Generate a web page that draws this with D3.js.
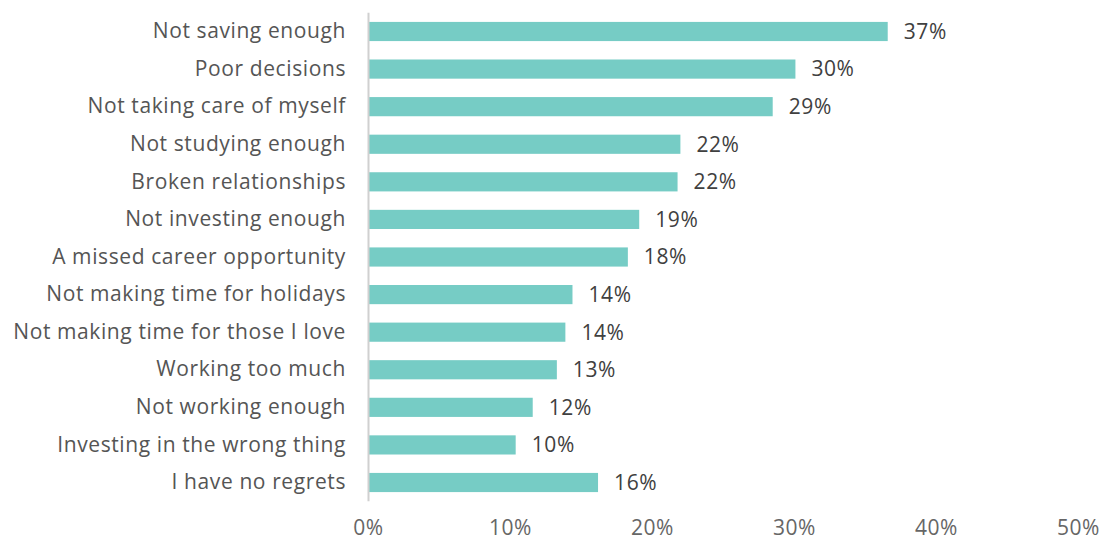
<!DOCTYPE html>
<html>
<head>
<meta charset="utf-8">
<script src="https://d3js.org/d3.v7.min.js"></script>
<style>
  body { margin: 0; background: #fff; }
  text { font-family: "Open Sans", Lato, sans-serif; letter-spacing: 0.6px; }
</style>
</head>
<body>
<div id="chart"></div>
<script>
var svgWidth = 1104;
var svgHeight = 542;

// data
var categories = [
  "Not saving enough",
  "Poor decisions",
  "Not taking care of myself",
  "Not studying enough",
  "Broken relationships",
  "Not investing enough",
  "A missed career opportunity",
  "Not making time for holidays",
  "Not making time for those I love",
  "Working too much",
  "Not working enough",
  "Investing in the wrong thing",
  "I have no regrets"
];
var values = [36.6, 30.1, 28.5, 22.0, 21.8, 19.1, 18.3, 14.4, 13.9, 13.3, 11.6, 10.4, 16.2];
var valueLabels = ["37%", "30%", "29%", "22%", "22%", "19%", "18%", "14%", "14%", "13%", "12%", "10%", "16%"];
var tickValues = [0, 10, 20, 30, 40, 50];

var fontStack = "'Open Sans', Lato, sans-serif";
var fontSize = "21px";

var svg = d3.select("#chart")
  .append("svg")
  .attr("width", svgWidth)
  .attr("height", svgHeight);

var x = d3.scaleLinear()
  .domain([0, 50])
  .range([368, 1078]);

var y = d3.scaleBand()
  .domain(categories)
  .range([12.7, 501.3])
  .paddingInner(0.49)
  .paddingOuter(0.245);

// bars
svg.selectAll("rect.bar")
  .data(values)
  .enter()
  .append("rect")
  .attr("class", "bar")
  .attr("x", x(0) + 1)
  .attr("y", (d, i) => y(categories[i]))
  .attr("width", d => x(d) - x(0) - 1)
  .attr("height", y.bandwidth())
  .style("fill", "#76ccc5");

// value labels
svg.selectAll("text.val")
  .data(values)
  .enter()
  .append("text")
  .attr("class", "val")
  .attr("x", d => x(d) + 16)
  .attr("y", (d, i) => y(categories[i]) + y.bandwidth() / 2)
  .attr("dy", "0.35em")
  .style("font-size", fontSize)
  .style("fill", "#404040")
  .text((d, i) => valueLabels[i]);

// category axis
var yAxis = svg.append("g")
  .attr("transform", `translate(${x(0)},0)`)
  .call(d3.axisLeft(y).tickSize(0).tickPadding(22));
yAxis.select(".domain")
  .attr("d", "M0.5,12.7V501.3")
  .style("stroke", "#d0d0d0")
  .style("stroke-width", 2);
yAxis.selectAll("text")
  .style("font-size", fontSize)
  .style("font-family", fontStack)
  .style("fill", "#555");

// value axis
var xAxis = svg.append("g")
  .attr("transform", "translate(0,517)")
  .call(d3.axisBottom(x).tickValues(tickValues).tickSize(0).tickFormat(d => d + "%"));
xAxis.select(".domain").remove();
xAxis.selectAll("text")
  .style("font-size", fontSize)
  .style("font-family", fontStack)
  .style("fill", "#666");
</script>
</body>
</html>
